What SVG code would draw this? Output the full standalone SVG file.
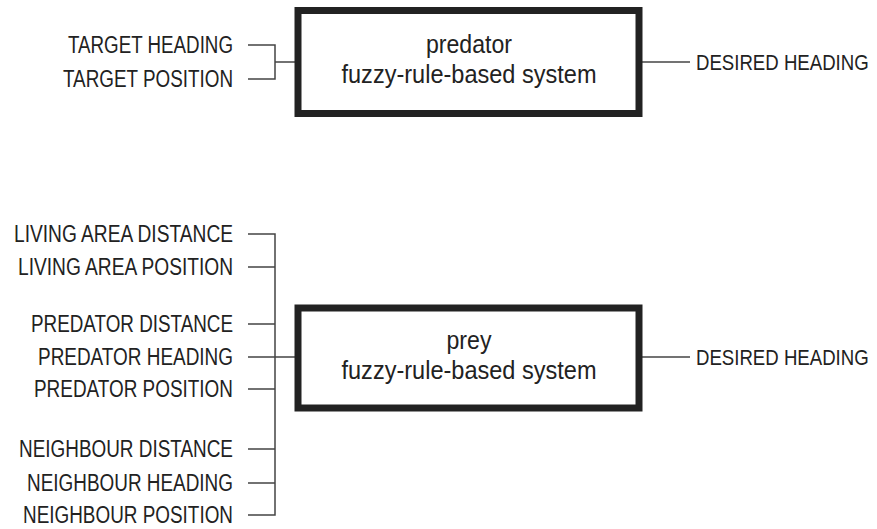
<svg xmlns="http://www.w3.org/2000/svg" width="877" height="529" viewBox="0 0 877 529">
<style>
.lbl{font-family:"Liberation Sans",Arial,sans-serif;font-size:23px;fill:#222;}
.end{text-anchor:end;}
.mid{text-anchor:middle;font-size:25px;}
.box{fill:#fff;stroke:#222;stroke-width:7;}
.ln{fill:none;stroke:#444;stroke-width:1.5;}
</style>
<rect width="877" height="529" fill="#fff"/>
<g id="connectors">
<path class="ln" d="M248,45H275V79H248M275,62H295"/>
<path class="ln" d="M642,62H690"/>
<path class="ln" d="M248,234H275V515H248M248,267H275M248,324H275M248,357H295M248,389H275M248,449H275M248,483H275"/>
<path class="ln" d="M642,357H690"/>
</g>
<g id="predator-inputs">
<text class="lbl end" x="233" y="53" textLength="165" lengthAdjust="spacingAndGlyphs">TARGET HEADING</text>
<text class="lbl end" x="233" y="87" textLength="170" lengthAdjust="spacingAndGlyphs">TARGET POSITION</text>
</g>
<g id="predator">
<rect class="box" x="298" y="10.5" width="341" height="103"/>
<text class="lbl mid" x="469" y="53" textLength="86" lengthAdjust="spacingAndGlyphs">predator</text>
<text class="lbl mid" x="469" y="83" textLength="255" lengthAdjust="spacingAndGlyphs">fuzzy-rule-based system</text>
</g>
<g id="predator-output">
<text class="lbl" transform="translate(696,70) scale(0.81,1)" x="0" y="0">DESIRED HEADING</text>
</g>
<g id="prey-inputs">
<text class="lbl end" x="233" y="242" textLength="219" lengthAdjust="spacingAndGlyphs">LIVING AREA DISTANCE</text>
<text class="lbl end" x="233" y="275" textLength="215" lengthAdjust="spacingAndGlyphs">LIVING AREA POSITION</text>
<text class="lbl end" x="233" y="332" textLength="202" lengthAdjust="spacingAndGlyphs">PREDATOR DISTANCE</text>
<text class="lbl end" x="233" y="365" textLength="195" lengthAdjust="spacingAndGlyphs">PREDATOR HEADING</text>
<text class="lbl end" x="233" y="397" textLength="199" lengthAdjust="spacingAndGlyphs">PREDATOR POSITION</text>
<text class="lbl end" x="233" y="457" textLength="214" lengthAdjust="spacingAndGlyphs">NEIGHBOUR DISTANCE</text>
<text class="lbl end" x="233" y="491" textLength="206" lengthAdjust="spacingAndGlyphs">NEIGHBOUR HEADING</text>
<text class="lbl end" x="233" y="523" textLength="210" lengthAdjust="spacingAndGlyphs">NEIGHBOUR POSITION</text>
</g>
<g id="prey">
<rect class="box" x="298" y="308" width="341" height="100"/>
<text class="lbl mid" x="469" y="349" textLength="45" lengthAdjust="spacingAndGlyphs">prey</text>
<text class="lbl mid" x="469" y="379" textLength="255" lengthAdjust="spacingAndGlyphs">fuzzy-rule-based system</text>
</g>
<g id="prey-output">
<text class="lbl" transform="translate(696,365) scale(0.81,1)" x="0" y="0">DESIRED HEADING</text>
</g>
</svg>
